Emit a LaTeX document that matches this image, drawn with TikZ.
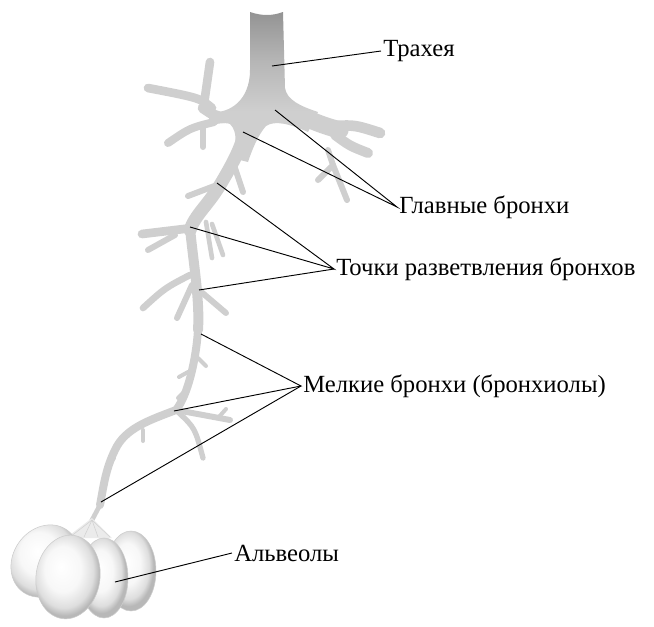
\documentclass[tikz,border=0pt]{standalone}
\usepackage{fontspec}
\setmainfont{Liberation Serif}
\pgfdeclareradialshading{lobe}{\pgfpoint{-5bp}{6bp}}{color(0bp)=(white); color(13bp)=(black!3); color(21bp)=(black!13); color(25bp)=(black!28); color(50bp)=(black!28)}
\pgfdeclareverticalshading{trachtube}{100bp}{color(0bp)=(black!19); color(42bp)=(black!19); color(59bp)=(black!29); color(75bp)=(black!42); color(100bp)=(black!42)}
\tikzset{
  bronch/.style={draw=black!19, line cap=round, line join=round},
  lobefill/.style={shading=lobe, draw=black!20, thin},
  lbl/.style={anchor=west, inner sep=1.5pt, font=\fontsize{18.5}{22}\selectfont},
  lead/.style={black, line width=0.7pt}
}

\begin{document}
\begin{tikzpicture}[x=0.75pt, y=-0.75pt]
  \useasboundingbox (0,0) rectangle (654,626);

  % Main spine
  \draw[bronch, line width=9.75pt] (245,130) .. controls (242,145) and (235,160) .. (220,185)
        .. controls (208,205) and (195,215) .. (190,230);
  \draw[bronch, line width=7.5pt] (190,228) .. controls (193,260) and (200,300) .. (198,330);
  \draw[bronch, line width=6pt] (198,330) .. controls (196,360) and (188,395) .. (176,410)
        .. controls (150,420) and (125,428) .. (115,450)
        .. controls (105,470) and (103,490) .. (100,505);
  \draw[bronch, line width=3.5pt] (100,505) -- (91,522);

  % Left main bronchus
  \draw[bronch, line width=8pt] (225,118) .. controls (215,116) .. (203,108);
  \draw[bronch, line width=6.5pt] (204,104) -- (210,62);
  \draw[bronch, line width=6.5pt] (212,108) .. controls (200,98) .. (148,88);
  \draw[bronch, line width=6pt] (214,122) .. controls (190,128) .. (168,143);
  \draw[bronch, line width=4.5pt] (203,125) -- (203,147);

  % Right main bronchus
  \draw[bronch, line width=13pt] (285,108) .. controls (305,118) and (320,125) .. (340,130);
  \draw[bronch, line width=8pt] (335,126) .. controls (355,125) .. (380,133);
  \draw[bronch, line width=7.5pt] (335,135) .. controls (350,146) .. (368,153);
  \draw[bronch, line width=4.5pt] (328,150) -- (333,165) -- (318,180);
  \draw[bronch, line width=4.5pt] (333,165) -- (347,200);

  % Branch points
  \draw[bronch, line width=4.5pt] (234,165) -- (243,192);
  \draw[bronch, line width=4.5pt] (217,185) -- (188,196);
  \draw[bronch, line width=6.5pt] (192,228) -- (142,234);
  \draw[bronch, line width=4.5pt] (175,235) -- (148,250);
  \draw[bronch, line width=3.5pt] (206,222) -- (212,258);
  \draw[bronch, line width=3.5pt] (212,224) -- (223,255);
  \draw[bronch, line width=5pt] (190,275) .. controls (165,288) .. (143,308);
  \draw[bronch, line width=4.5pt] (192,285) -- (177,318);
  \draw[bronch, line width=4.5pt] (199,290) -- (226,313);

  % Small bronchi
  \draw[bronch, line width=3pt] (198,358) -- (206,366);
  \draw[bronch, line width=3pt] (188,372) -- (179,377);
  \draw[bronch, line width=3pt] (184,392) -- (178,398);
  \draw[bronch, line width=4.5pt] (176,410) -- (230,420);
  \draw[bronch, line width=3pt] (218,418) -- (226,409);
  \draw[bronch, line width=4pt] (178,412) .. controls (195,428) .. (203,458);
  \draw[bronch, line width=3pt] (143,430) -- (143,441);
  \draw[bronch, line width=3pt] (114,458) -- (108,466);
  \draw[bronch, line width=3pt] (106,484) -- (101,489);

  % Trachea
  \shade[shading=trachtube]
    (250,12) .. controls (262,16) and (272,16) .. (283,12)
    -- (285,88) .. controls (287,100) and (300,106) .. (318,112)
    -- (308,132) .. controls (290,124) and (275,120) .. (266,126)
    .. controls (258,135) and (252,150) .. (248,162)
    -- (232,158) .. controls (236,145) and (238,132) .. (230,124)
    .. controls (225,122) and (215,124) .. (208,126)
    -- (210,112) .. controls (230,114) and (250,100) .. (250,70) -- cycle;

  % Fibres to the alveoli
  \fill[black!8] (92,518) -- (66,538) -- (112,538) -- cycle;
  \foreach \fx in {70,84,98,110}
    \draw[black!18, thin] (92,520) -- (\fx,537);

  % Alveoli
  \path[lobefill] (45,561) circle [x radius=32, y radius=38, rotate=-35];
  \path[lobefill] (131,571) circle [x radius=25, y radius=40];
  \path[lobefill] (104,578) circle [x radius=24, y radius=40];
  \path[lobefill] (68,577) circle [x radius=32, y radius=42, rotate=-8];

  % Targets of the leader lines
  \coordinate (trachP) at (272,66);
  \coordinate (mainR) at (275,110);
  \coordinate (mainL) at (243,132);
  \coordinate (forkA) at (217,183);
  \coordinate (forkB) at (190,227);
  \coordinate (forkC) at (199,290);
  \coordinate (smallA) at (201,334);
  \coordinate (smallB) at (174,411);
  \coordinate (smallC) at (101,502);
  \coordinate (alvP) at (115,582);

  % Labels
  \node[lbl] (trach) at (381,51) {Трахея};
  \node[lbl] (glav) at (397,207) {Главные бронхи};
  \node[lbl] (tochki) at (334,269) {Точки разветвления бронхов};
  \node[lbl] (melk) at (301,386) {Мелкие бронхи (бронхиолы)};
  \node[lbl] (alv) at (232,553) {Альвеолы};

  % Leader lines
  \draw[lead] (trach.west) -- (trachP);
  \draw[lead] (mainR) -- (glav.west) -- (mainL);
  \draw[lead] (forkA) -- (tochki.west) -- (forkB);
  \draw[lead] (tochki.west) -- (forkC);
  \draw[lead] (smallA) -- (melk.west) -- (smallB);
  \draw[lead] (melk.west) -- (smallC);
  \draw[lead] (alv.west) -- (alvP);

\end{tikzpicture}
\end{document}
